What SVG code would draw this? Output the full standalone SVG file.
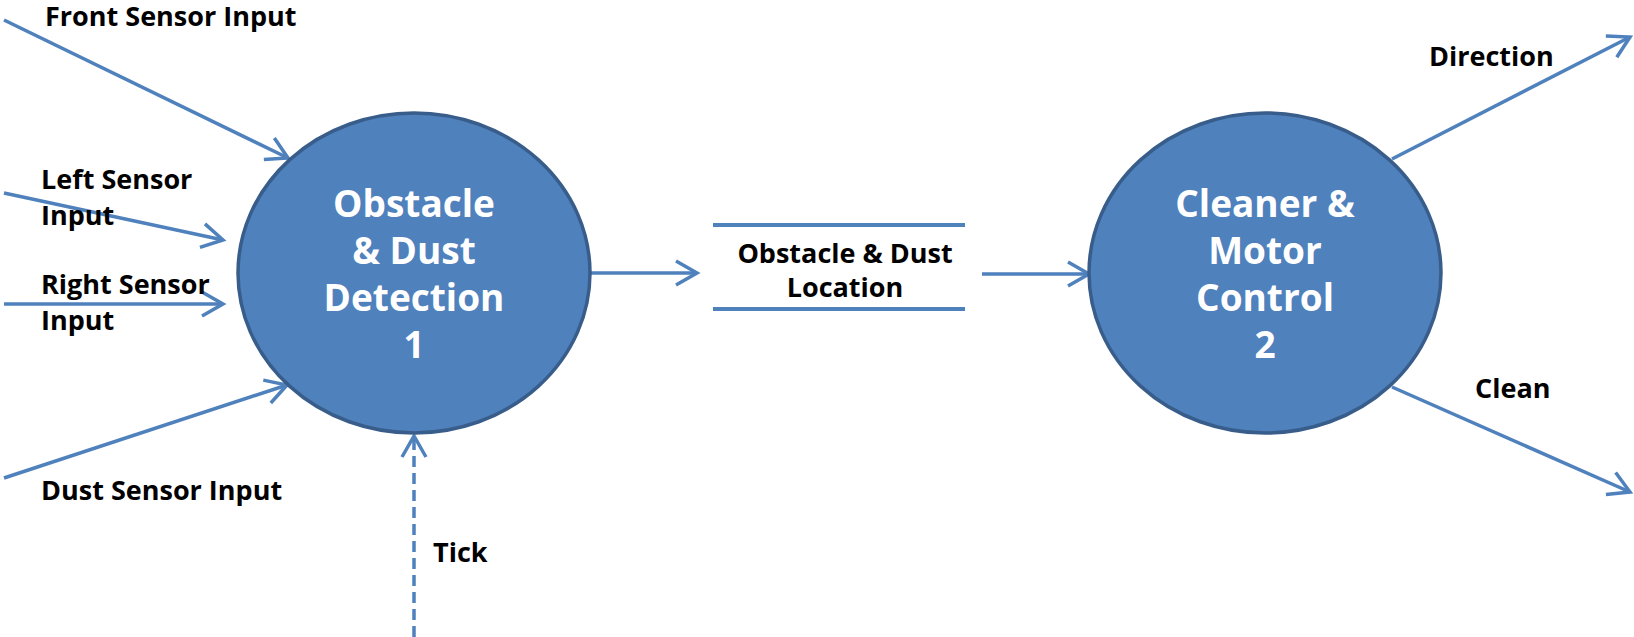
<svg xmlns="http://www.w3.org/2000/svg" width="1634" height="637" viewBox="0 0 1634 637">
<style>
.bg{fill:#ffffff}
.proc{fill:#4F81BD;stroke:#385D8A;stroke-width:3.5}
.ptxt{font-family:"Open Sans","Liberation Sans",sans-serif;font-weight:bold;font-size:37px;fill:#ffffff;text-anchor:middle}
.lbl{font-family:"Open Sans","Liberation Sans",sans-serif;font-weight:bold;font-size:27px;fill:#000000}
.flow{stroke:#4F81BD;stroke-width:3.5;fill:none}
.dash{stroke-dasharray:11 6}
.store{stroke:#4F81BD;stroke-width:4}
</style>
<defs>
<marker id="arr" markerUnits="userSpaceOnUse" markerWidth="30" markerHeight="30" viewBox="0 0 30 30" refX="25" refY="15" orient="auto">
<path d="M4,3 L25,15 L4,27" fill="none" stroke="#4F81BD" stroke-width="3.5" stroke-linejoin="miter"/>
</marker>
</defs>
<rect class="bg" x="0" y="0" width="1634" height="637"/>
<g id="connectors">
<line class="flow" x1="4" y1="20" x2="288" y2="158" marker-end="url(#arr)"/>
<line class="flow" x1="4" y1="193" x2="223" y2="240" marker-end="url(#arr)"/>
<line class="flow" x1="4" y1="304" x2="223" y2="304" marker-end="url(#arr)"/>
<line class="flow" x1="4" y1="478" x2="287" y2="385" marker-end="url(#arr)"/>
<line class="flow dash" x1="414" y1="637" x2="414" y2="436" marker-end="url(#arr)"/>
<line class="flow" x1="590" y1="273" x2="697" y2="273" marker-end="url(#arr)"/>
<line class="flow" x1="982" y1="274" x2="1089" y2="274" marker-end="url(#arr)"/>
<line class="flow" x1="1392" y1="159" x2="1630" y2="37" marker-end="url(#arr)"/>
<line class="flow" x1="1392" y1="387" x2="1630" y2="492" marker-end="url(#arr)"/>
</g>
<g id="labels">
<text class="lbl" x="45" y="26">Front Sensor Input</text>
<text class="lbl" x="41" y="189">Left Sensor</text>
<text class="lbl" x="41" y="225">Input</text>
<text class="lbl" x="41" y="294">Right Sensor</text>
<text class="lbl" x="41" y="330">Input</text>
<text class="lbl" x="41" y="500">Dust Sensor Input</text>
<text class="lbl" x="433" y="562">Tick</text>
<text class="lbl" x="1429" y="66">Direction</text>
<text class="lbl" x="1475" y="398">Clean</text>
</g>
<g id="process1">
<ellipse class="proc" cx="414" cy="273" rx="176" ry="160"/>
<text class="ptxt" x="414" y="217">Obstacle</text>
<text class="ptxt" x="414" y="264">&amp; Dust</text>
<text class="ptxt" x="414" y="311">Detection</text>
<text class="ptxt" x="414" y="358">1</text>
</g>
<g id="datastore">
<line class="store" x1="713" y1="225" x2="965" y2="225"/>
<line class="store" x1="713" y1="309" x2="965" y2="309"/>
<text class="lbl" x="845" y="263" text-anchor="middle">Obstacle &amp; Dust</text>
<text class="lbl" x="845" y="297" text-anchor="middle">Location</text>
</g>
<g id="process2">
<ellipse class="proc" cx="1265" cy="273" rx="176" ry="160"/>
<text class="ptxt" x="1265" y="217">Cleaner &amp;</text>
<text class="ptxt" x="1265" y="264">Motor</text>
<text class="ptxt" x="1265" y="311">Control</text>
<text class="ptxt" x="1265" y="358">2</text>
</g>
</svg>
